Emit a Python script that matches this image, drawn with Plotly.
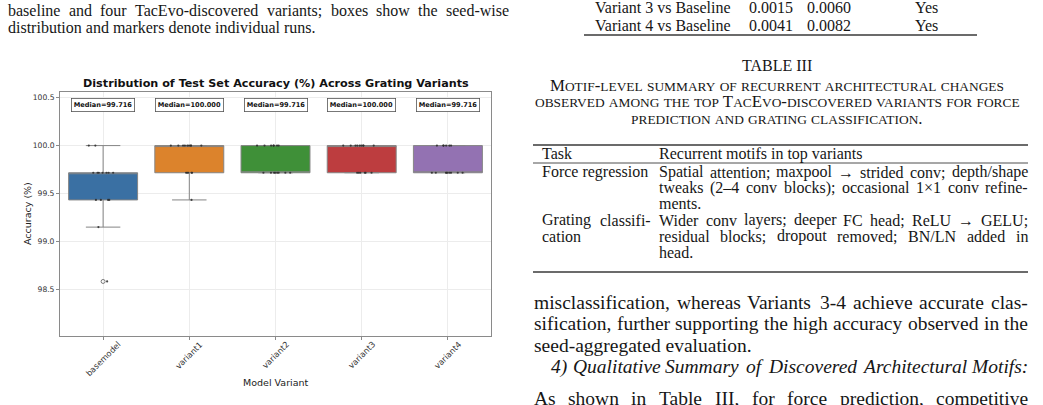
import numpy as np
import plotly.graph_objects as go

# ---------------- data ----------------
categories = ["basemodel", "variant1", "variant2", "variant3", "variant4"]
acc_basemodel = [98.580, 99.148, 99.432, 99.432, 99.432, 99.432, 99.716, 99.716,
                 99.716, 99.716, 99.716, 99.716, 99.716, 100.000, 100.000]
acc_variant1 = [99.432, 99.716, 99.716, 99.716, 99.716, 99.716, 100.000, 100.000,
                100.000, 100.000, 100.000, 100.000, 100.000, 100.000, 100.000]
acc_variant2 = [99.716, 99.716, 99.716, 99.716, 99.716, 99.716, 99.716, 99.716,
                100.000, 100.000, 100.000, 100.000, 100.000, 100.000, 100.000]
acc_variant3 = [99.716, 99.716, 99.716, 99.716, 99.716, 99.716, 100.000, 100.000,
                100.000, 100.000, 100.000, 100.000, 100.000, 100.000, 100.000]
acc_variant4 = [99.716, 99.716, 99.716, 99.716, 99.716, 99.716, 99.716, 99.716,
                99.716, 100.000, 100.000, 100.000, 100.000, 100.000, 100.000]
series = [acc_basemodel, acc_variant1, acc_variant2, acc_variant3, acc_variant4]
colors = ["#3a70a3", "#dc832c", "#3f9038", "#bd3d3f", "#9372b2"]
y_ticks = [98.5, 99.0, 99.5, 100.0, 100.5]

W, H = 1043, 405
fig = go.Figure()

for cat, vals, col in zip(categories, series, colors):
    fig.add_trace(go.Box(
        x=[cat] * len(vals), y=vals, name=cat, width=0.8,
        fillcolor=col, line=dict(color="#858585", width=1),
        boxpoints="outliers", pointpos=0, jitter=0, whiskerwidth=0.5,
        marker=dict(symbol="circle-open", size=4, color="#5a5a5a",
                    line=dict(width=0.8, color="#5a5a5a")),
        showlegend=False, hoverinfo="y"))
for cat, vals in zip(categories, series):
    fig.add_trace(go.Box(
        x=[cat] * len(vals), y=vals, width=0.8,
        fillcolor="rgba(0,0,0,0)", line=dict(color="rgba(0,0,0,0)", width=0),
        boxpoints="all", pointpos=0, jitter=0.55, whiskerwidth=0,
        marker=dict(size=2.2, color="#2a2a2a", opacity=0.85),
        showlegend=False, hoverinfo="y"))

def px(x):
    return x / W

def py(y):
    return 1 - y / H

fig.update_layout(
    width=W, height=H, margin=dict(l=0, r=0, t=0, b=0),
    paper_bgcolor="white", plot_bgcolor="white", boxmode="overlay",
    xaxis=dict(domain=[px(60), px(491)], range=[-0.5, 4.5], type="category",
               categoryorder="array", categoryarray=categories,
               showgrid=True, gridcolor="#ececec", gridwidth=1,
               showline=True, linecolor="#8a8a8a", linewidth=1, mirror=True,
               ticks="outside", ticklen=3, tickcolor="#8a8a8a",
               showticklabels=False, zeroline=False),
    yaxis=dict(domain=[py(336), py(92)], range=[98.01, 100.56],
               tickvals=y_ticks, ticktext=[f"{v:.1f}" for v in y_ticks],
               showgrid=True, gridcolor="#ececec", gridwidth=1,
               showline=True, linecolor="#8a8a8a", linewidth=1, mirror=True,
               ticks="outside", ticklen=3, tickcolor="#8a8a8a",
               tickfont=dict(family="DejaVu Sans", size=7.6, color="#333"),
               zeroline=False),
)

ann = []
# chart texts
ann.append(dict(text="<b>Distribution of Test Set Accuracy (%) Across Grating Variants</b>",
                x=px(276), y=py(84), xref="paper", yref="paper", showarrow=False,
                xanchor="center", yanchor="middle",
                font=dict(family="DejaVu Sans", size=11.2, color="#111")))
ann.append(dict(text="Model Variant", x=px(276), y=py(382), xref="paper", yref="paper",
                showarrow=False, xanchor="center", yanchor="middle",
                font=dict(family="DejaVu Sans", size=9.5, color="#222")))
ann.append(dict(text="Accuracy (%)", x=px(28), y=py(214), xref="paper", yref="paper",
                showarrow=False, xanchor="center", yanchor="middle", textangle=-90,
                font=dict(family="DejaVu Sans", size=9.5, color="#222")))
for cat, vals in zip(categories, series):
    m = float(np.median(vals))
    ann.append(dict(text=f"<b>Median={m:.3f}</b>", x=cat, y=100.425, xref="x", yref="y",
                    showarrow=False, xanchor="center", yanchor="middle",
                    font=dict(family="DejaVu Sans", size=6.6, color="#111"),
                    bgcolor="white", bordercolor="#555", borderwidth=0.8, borderpad=2))

# rotated category labels, centred under each tick (matplotlib style)
DV = {'a': 613, 'b': 635, 'd': 635, 'e': 615, 'i': 278, 'l': 278, 'm': 974, 'n': 634,
      'o': 612, 'r': 411, 's': 521, 't': 392, 'v': 592}
TICK_SIZE = 8.2
for cat in categories:
    w = sum(DV.get(c, 636) for c in cat) / 1000 * TICK_SIZE
    bbox = (w + TICK_SIZE * 1.15) * 0.7071
    ann.append(dict(text=cat, x=cat, y=py(340 + bbox / 2), xref="x", yref="paper",
                    showarrow=False, xanchor="center", yanchor="middle", textangle=-45,
                    borderpad=0,
                    font=dict(family="DejaVu Sans", size=TICK_SIZE, color="#333")))

# ---------------- surrounding page text ----------------
TW = {' ': 250, '!': 333, '%': 833, '(': 333, ')': 333, ',': 250, '-': 333, '.': 250,
      '/': 278, ':': 278, ';': 278, 'A': 722, 'B': 667, 'C': 667, 'D': 722, 'E': 611,
      'F': 556, 'G': 722, 'H': 722, 'I': 333, 'J': 389, 'K': 722, 'L': 611, 'M': 889,
      'N': 722, 'O': 722, 'P': 556, 'Q': 722, 'R': 667, 'S': 556, 'T': 611, 'U': 722,
      'V': 722, 'W': 944, 'X': 722, 'Y': 722, 'Z': 611, 'a': 444, 'b': 500, 'c': 444,
      'd': 500, 'e': 444, 'f': 333, 'g': 500, 'h': 500, 'i': 278, 'j': 278, 'k': 500,
      'l': 278, 'm': 778, 'n': 500, 'o': 500, 'p': 500, 'q': 500, 'r': 333, 's': 389,
      't': 278, 'u': 500, 'v': 500, 'w': 722, 'x': 500, 'y': 500, 'z': 444,
      '\u2013': 500, '\u00d7': 564, '\u2192': 1000}
INK = "#161616"
SERIF = "Liberation Serif"


def tw(s, size):
    return sum(TW.get(c, 500) for c in s) / 1000 * size


def put(text, x, y, size, anchor="left", italic=False):
    t = f"<i>{text}</i>" if italic else text
    ann.append(dict(text=t, x=px(x), y=py(y), xref="paper", yref="paper",
                    showarrow=False, xanchor=anchor, yanchor="middle", borderpad=0,
                    font=dict(family=SERIF, size=size, color=INK)))


def line(text, y, size, x0, x1=None, italic=False):
    if x1 is None:
        put(text, x0, y, size, italic=italic)
        return
    words = text.split(" ")
    widths = [tw(w, size) for w in words]
    gap = (x1 - x0 - sum(widths)) / max(len(words) - 1, 1)
    x = x0
    for w, wd in zip(words, widths):
        put(w, x, y, size, italic=italic)
        x += wd + gap


def smallcaps(text, size):
    out = []
    for c in text:
        if c.islower():
            out.append(f'<span style="font-size:{size * 0.8:.1f}px">{c.upper()}</span>')
        else:
            out.append(c)
    return "".join(out)


# figure caption (top-left)
line("baseline and four TacEvo-discovered variants; boxes show the seed-wise", 10, 16, 7, 508)
line("distribution and markers denote individual runs.", 28, 16, 7)

# end of table II
for y, a, b, c in [(8, "Variant 3 vs Baseline", "0.0015", "0.0060"),
                   (25.5, "Variant 4 vs Baseline", "0.0041", "0.0082")]:
    put(a, 594, y, 16)
    put(b, 748, y, 16)
    put(c, 806, y, 16)
    put("Yes", 914, y, 16)

# table III caption
put("TABLE III", 777, 65, 16, anchor="center")
for y, t in [(85, "Motif-level summary of recurrent architectural changes"),
             (101.5, "observed among the top TacEvo-discovered variants for force"),
             (118, "prediction and grating classification.")]:
    ann.append(dict(text=smallcaps(t, 16.8), x=px(777), y=py(y), xref="paper", yref="paper",
                    showarrow=False, xanchor="center", yanchor="middle", borderpad=0,
                    font=dict(family=SERIF, size=16.8, color=INK)))

# table III body
put("Task", 541, 154, 16)
put("Recurrent motifs in top variants", 658, 154, 16)
put("Force regression", 541, 172, 16)
line("Spatial attention; maxpool \u2192 strided conv; depth/shape", 172, 16, 658, 1027)
line("tweaks (2\u20134 conv blocks); occasional 1\u00d71 conv refine-", 188, 16, 658, 1027)
put("ments.", 658, 204, 16)
line("Grating classifi-", 220, 16, 541, 650)
line("Wider conv layers; deeper FC head; ReLU \u2192 GELU;", 220, 16, 658, 1027)
put("cation", 541, 236, 16)
line("residual blocks; dropout removed; BN/LN added in", 236, 16, 658, 1027)
put("head.", 658, 252, 16)

# body paragraph
line("misclassification, whereas Variants 3-4 achieve accurate clas-", 302, 19.5, 533, 1027)
line("sification, further supporting the high accuracy observed in the", 323.5, 19.5, 533, 1027)
line("seed-aggregated evaluation.", 345, 19.5, 533)
line("4) Qualitative Summary of Discovered Architectural Motifs:", 366.5, 19.5, 550, 1027, italic=True)
line("As shown in Table III, for force prediction, competitive", 398, 19.5, 533, 1027)

shapes = []
for (x0, x1, y, w) in [(584, 977, 35, 1.6), (533, 1028, 145, 1.6),
                       (533, 1028, 163, 0.9), (533, 1028, 272, 1.6)]:
    shapes.append(dict(type="line", xref="paper", yref="paper", x0=px(x0), x1=px(x1),
                       y0=py(y), y1=py(y), line=dict(color="#3a3a3a", width=w)))

fig.update_layout(annotations=ann, shapes=shapes)
fig.write_html("out.html")
